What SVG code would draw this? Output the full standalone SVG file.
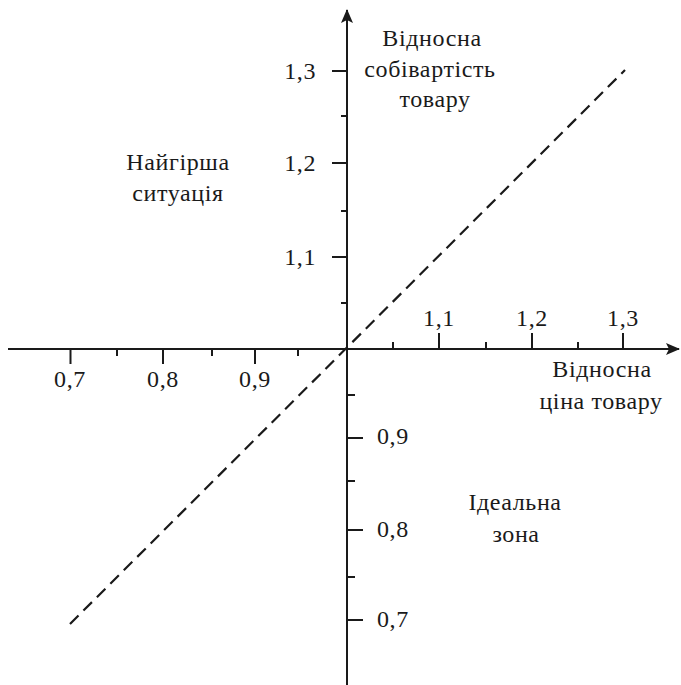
<svg xmlns="http://www.w3.org/2000/svg" width="681" height="685" viewBox="0 0 681 685">
<style>
text{font-family:"Liberation Serif","Times New Roman","DejaVu Serif",serif;font-size:24px;letter-spacing:0.6px;fill:#1a1a1a}
.ax{stroke:#1a1a1a;stroke-width:2;fill:none}
.tk{stroke:#1a1a1a;stroke-width:2}
.dash{stroke:#1a1a1a;stroke-width:2.2;stroke-dasharray:12 7;fill:none}
.m{text-anchor:middle}
.e{text-anchor:end}
</style>
<defs>
<marker id="arr" markerWidth="14" markerHeight="12" refX="13" refY="6" orient="auto" markerUnits="userSpaceOnUse">
<path d="M0,0 L14,6 L0,12 L3,6 Z" fill="#1a1a1a"/>
</marker>
</defs>
<rect width="681" height="685" fill="#fff"/>
<g id="connectors">
<line class="ax" x1="8" y1="349" x2="679" y2="349" marker-end="url(#arr)"/>
<line class="ax" x1="347" y1="685" x2="347" y2="10" marker-end="url(#arr)"/>
<line class="dash" x1="70" y1="624" x2="625" y2="70"/>
</g>
<g id="ticks-y">
<line class="tk" x1="332" y1="71" x2="347" y2="71"/>
<line class="tk" x1="341" y1="116" x2="347" y2="116"/>
<line class="tk" x1="332" y1="163" x2="347" y2="163"/>
<line class="tk" x1="341" y1="211" x2="347" y2="211"/>
<line class="tk" x1="332" y1="257" x2="347" y2="257"/>
<line class="tk" x1="341" y1="303" x2="347" y2="303"/>
<line class="tk" x1="347" y1="395" x2="355" y2="395"/>
<line class="tk" x1="347" y1="438" x2="363" y2="438"/>
<line class="tk" x1="347" y1="481" x2="355" y2="481"/>
<line class="tk" x1="347" y1="530" x2="363" y2="530"/>
<line class="tk" x1="347" y1="577" x2="355" y2="577"/>
<line class="tk" x1="347" y1="620" x2="363" y2="620"/>
</g>
<g id="ticks-x">
<line class="tk" x1="70.5" y1="349" x2="70.5" y2="364"/>
<line class="tk" x1="117" y1="349" x2="117" y2="356"/>
<line class="tk" x1="163" y1="349" x2="163" y2="364"/>
<line class="tk" x1="212" y1="349" x2="212" y2="356"/>
<line class="tk" x1="255" y1="349" x2="255" y2="364"/>
<line class="tk" x1="298" y1="349" x2="298" y2="356"/>
<line class="tk" x1="393" y1="349" x2="393" y2="342"/>
<line class="tk" x1="439" y1="349" x2="439" y2="333"/>
<line class="tk" x1="486" y1="349" x2="486" y2="342"/>
<line class="tk" x1="532" y1="349" x2="532" y2="333"/>
<line class="tk" x1="578" y1="349" x2="578" y2="342"/>
<line class="tk" x1="623" y1="349" x2="623" y2="333"/>
</g>
<g id="labels-y">
<text class="e" x="316" y="79">1,3</text>
<text class="e" x="316" y="171">1,2</text>
<text class="e" x="316" y="265">1,1</text>
<text x="377" y="444">0,9</text>
<text x="377" y="537">0,8</text>
<text x="377" y="627">0,7</text>
</g>
<g id="labels-x">
<text class="m" x="70" y="387">0,7</text>
<text class="m" x="163" y="387">0,8</text>
<text class="m" x="255" y="387">0,9</text>
<text class="m" x="439" y="326">1,1</text>
<text class="m" x="532" y="326">1,2</text>
<text class="m" x="623" y="326">1,3</text>
</g>
<g id="node-y-title">
<text class="m" x="432" y="46">Відносна</text>
<text class="m" x="430" y="77">собівартість</text>
<text class="m" x="435" y="107">товару</text>
</g>
<g id="node-x-title">
<text class="m" x="602" y="377">Відносна</text>
<text class="m" x="601" y="409">ціна товару</text>
</g>
<g id="node-worst">
<text class="m" x="178" y="170">Найгірша</text>
<text class="m" x="178" y="201">ситуація</text>
</g>
<g id="node-ideal">
<text class="m" x="515" y="510">Ідеальна</text>
<text class="m" x="516" y="542">зона</text>
</g>
</svg>
